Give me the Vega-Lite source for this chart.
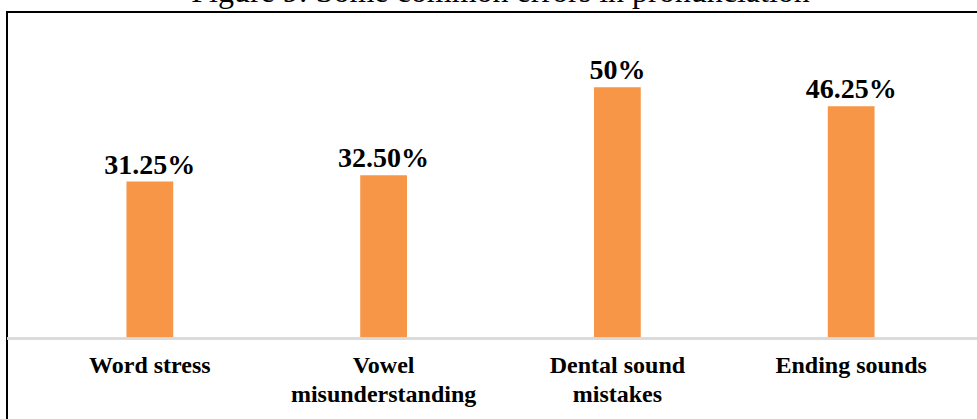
{
  "$schema": "https://vega.github.io/schema/vega-lite/v6.json",
  "autosize": {"type": "none"},
  "padding": {"left": 7, "top": 12, "right": 0, "bottom": 0},
  "width": 987,
  "height": 412,
  "title": {
    "text": "Figure 9: Some common errors in pronunciation",
    "font": "Times New Roman, Liberation Serif, serif",
    "fontSize": 32,
    "fontWeight": "normal",
    "color": "#000000",
    "anchor": "middle",
    "baseline": "alphabetic",
    "offset": 0,
    "dy": 22
  },
  "data": {
    "values": [
      {"category": "Word stress", "value": 31.25, "label": "31.25%"},
      {"category": "Vowel misunderstanding", "value": 32.5, "label": "32.50%"},
      {"category": "Dental sound mistakes", "value": 50, "label": "50%"},
      {"category": "Ending sounds", "value": 46.25, "label": "46.25%"}
    ]
  },
  "encoding": {
    "x": {
      "field": "category",
      "type": "nominal",
      "sort": null,
      "scale": {"paddingInner": 0.8, "paddingOuter": 0.511},
      "axis": {
        "title": null,
        "domain": false,
        "ticks": false,
        "labelAngle": 0,
        "labelLimit": 0,
        "labelFont": "Times New Roman, Liberation Serif, serif",
        "labelFontWeight": "bold",
        "labelFontSize": 24,
        "labelColor": "#000000",
        "labelPadding": 15,
        "labelLineHeight": 29,
        "offset": -86,
        "labelExpr": "(datum.label == 'Word stress' || datum.label == 'Ending sounds') ? datum.label : [substring(datum.label, 0, lastindexof(datum.label, ' ')), substring(datum.label, lastindexof(datum.label, ' ') + 1)]"
      }
    },
    "y": {
      "field": "value",
      "type": "quantitative",
      "scale": {"domain": [-17, 65], "nice": false, "zero": false},
      "axis": null
    }
  },
  "layer": [
    {
      "mark": {"type": "bar", "color": "#F79646"},
      "encoding": {"y2": {"datum": 0}}
    },
    {
      "mark": {"type": "rule", "color": "#D9D9D9", "strokeWidth": 2},
      "encoding": {"x": null, "y": {"datum": 0}}
    },
    {
      "mark": {
        "type": "text",
        "font": "Times New Roman, Liberation Serif, serif",
        "fontWeight": "bold",
        "fontSize": 28,
        "color": "#000000",
        "baseline": "alphabetic",
        "dy": -8
      },
      "encoding": {"text": {"field": "label"}}
    }
  ],
  "config": {
    "view": {"stroke": "#000000", "strokeWidth": 2},
    "background": "white"
  }
}
